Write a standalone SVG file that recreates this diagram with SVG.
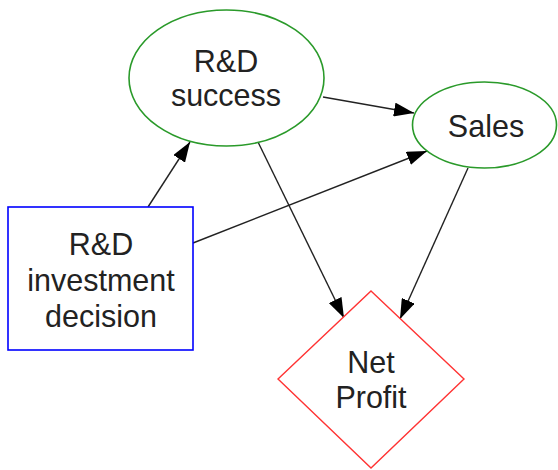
<svg xmlns="http://www.w3.org/2000/svg" width="558" height="470" viewBox="0 0 558 470">
<defs>
<marker id="arr" markerUnits="userSpaceOnUse" markerWidth="20" markerHeight="14" refX="20" refY="7" orient="auto">
<path d="M0,0 L20,7 L0,14 z" fill="#000"/>
</marker>
<style>
.lbl{font-family:"Liberation Sans",Arial,sans-serif;font-size:30.5px;fill:#222;text-anchor:middle}
.edge{stroke:#222;stroke-width:1.4;fill:none;marker-end:url(#arr)}
.chance{fill:#fff;stroke:#2a9a2a;stroke-width:1.6}
</style>
</defs>
<rect width="558" height="470" fill="#fff"/>
<g id="connectors">
<line class="edge" x1="148" y1="207" x2="190" y2="142"/>
<line class="edge" x1="193" y1="243" x2="427" y2="151"/>
<line class="edge" x1="258" y1="142" x2="344" y2="318"/>
<line class="edge" x1="468" y1="168" x2="400" y2="319"/>
<line class="edge" x1="323" y1="97" x2="414" y2="113"/>
</g>
<g id="rd_success">
<ellipse class="chance" cx="226.5" cy="78" rx="97.5" ry="68"/>
<text class="lbl" x="226" y="72">R&amp;D</text>
<text class="lbl" x="226" y="106">success</text>
</g>
<g id="sales">
<ellipse class="chance" cx="484.5" cy="125" rx="72" ry="43"/>
<text class="lbl" x="486" y="137">Sales</text>
</g>
<g id="investment_decision">
<rect x="8" y="207" width="185" height="143" fill="#fff" stroke="#0000ff" stroke-width="1.6"/>
<text class="lbl" x="101" y="255">R&amp;D</text>
<text class="lbl" x="101" y="291">investment</text>
<text class="lbl" x="101" y="327">decision</text>
</g>
<g id="net_profit">
<polygon points="371,291 464,379 371,468 278,379" fill="#fff" stroke="#ff3333" stroke-width="1.4"/>
<text class="lbl" x="371" y="373">Net</text>
<text class="lbl" x="371" y="408">Profit</text>
</g>
</svg>
